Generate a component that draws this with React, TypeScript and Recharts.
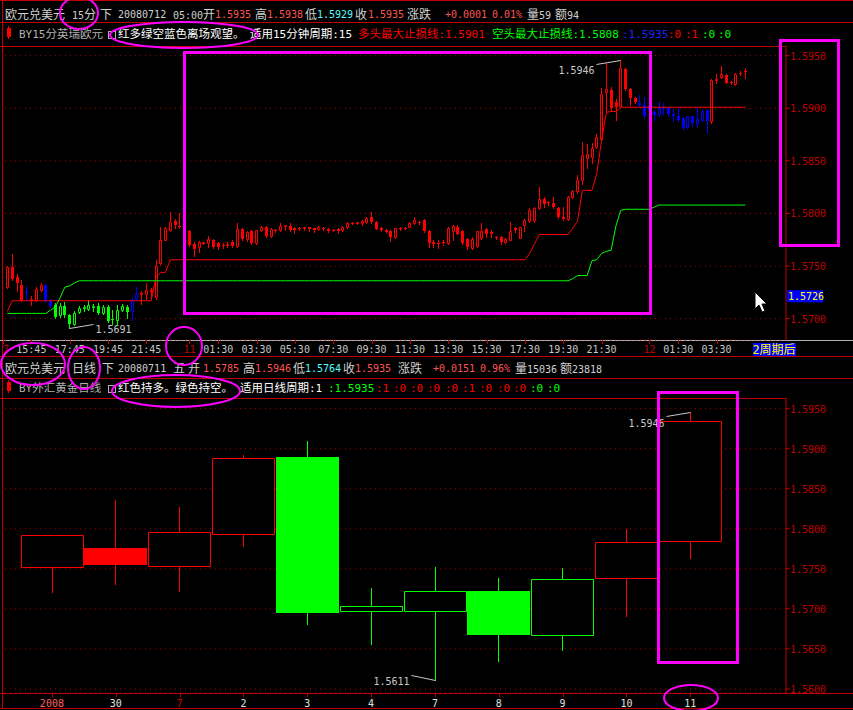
import React from "react"
import { Bar, CartesianGrid, ComposedChart, Line, ReferenceLine, XAxis, YAxis } from "recharts"

// ---- 15 minute bars, EUR/USD, 10 Jul 14:30 .. 12 Jul 05:00 ----
const TOP_OPEN = [
  1.5730, 1.5749, 1.5740, 1.5732, 1.5725, 1.5718, 1.5718, 1.5727, 1.5732, 1.5717,
  1.5713, 1.5703, 1.5712, 1.5703, 1.5695, 1.5706, 1.5710, 1.5709, 1.5711, 1.5712,
  1.5705, 1.5711, 1.5700, 1.5699, 1.5708, 1.5711, 1.5707, 1.5719, 1.5723, 1.5723,
  1.5727, 1.5721, 1.5753, 1.5775, 1.5784, 1.5793, 1.5788, 1.5786, 1.5783, 1.5771,
  1.5768, 1.5772, 1.5772, 1.5775, 1.5772, 1.5770, 1.5770, 1.5773, 1.5769, 1.5785,
  1.5776, 1.5783, 1.5772, 1.5784, 1.5787, 1.5779, 1.5784, 1.5784, 1.5788, 1.5788,
  1.5786, 1.5786, 1.5786, 1.5787, 1.5786, 1.5785, 1.5786, 1.5785, 1.5784, 1.5785,
  1.5784, 1.5787, 1.5791, 1.5791, 1.5791, 1.5792, 1.5797, 1.5792, 1.5786, 1.5784,
  1.5783, 1.5778, 1.5786, 1.5786, 1.5787, 1.5791, 1.5792, 1.5794, 1.5783, 1.5773,
  1.5772, 1.5773, 1.5772, 1.5783, 1.5787, 1.5783, 1.5776, 1.5767, 1.5769, 1.5777,
  1.5785, 1.5782, 1.5778, 1.5778, 1.5773, 1.5775, 1.5786, 1.5777, 1.5789, 1.5793,
  1.5794, 1.5805, 1.5814, 1.5811, 1.5810, 1.5805, 1.5797, 1.5795, 1.5816, 1.5821,
  1.5832, 1.5853, 1.5854, 1.5863, 1.5871, 1.5915, 1.5917, 1.5906, 1.5902, 1.5937,
  1.5918, 1.5910, 1.5905, 1.5903, 1.5902, 1.5896, 1.5895, 1.5900, 1.5900, 1.5895,
  1.5893, 1.5891, 1.5882, 1.5893, 1.5886, 1.5889, 1.5898, 1.5888, 1.5927, 1.5930,
  1.5932, 1.5925, 1.5923, 1.5934, 1.5935,
]
const TOP_HIGH = [
  1.5750, 1.5761, 1.5742, 1.5737, 1.5731, 1.5722, 1.5730, 1.5734, 1.5733, 1.5719,
  1.5715, 1.5715, 1.5716, 1.5704, 1.5707, 1.5712, 1.5713, 1.5718, 1.5714, 1.5715,
  1.5713, 1.5713, 1.5708, 1.5713, 1.5714, 1.5713, 1.5720, 1.5730, 1.5726, 1.5734,
  1.5729, 1.5756, 1.5787, 1.5787, 1.5801, 1.5795, 1.5800, 1.5787, 1.5784, 1.5773,
  1.5774, 1.5773, 1.5779, 1.5776, 1.5773, 1.5772, 1.5773, 1.5775, 1.5791, 1.5786,
  1.5783, 1.5784, 1.5784, 1.5788, 1.5788, 1.5786, 1.5785, 1.5791, 1.5789, 1.5791,
  1.5787, 1.5787, 1.5787, 1.5787, 1.5786, 1.5788, 1.5787, 1.5786, 1.5785, 1.5786,
  1.5788, 1.5792, 1.5792, 1.5792, 1.5794, 1.5797, 1.5801, 1.5793, 1.5787, 1.5785,
  1.5784, 1.5786, 1.5787, 1.5787, 1.5792, 1.5797, 1.5793, 1.5795, 1.5784, 1.5775,
  1.5775, 1.5775, 1.5787, 1.5789, 1.5789, 1.5784, 1.5777, 1.5778, 1.5783, 1.5791,
  1.5786, 1.5784, 1.5779, 1.5779, 1.5777, 1.5792, 1.5787, 1.5787, 1.5795, 1.5805,
  1.5806, 1.5825, 1.5816, 1.5812, 1.5816, 1.5806, 1.5806, 1.5817, 1.5822, 1.5837,
  1.5868, 1.5866, 1.5867, 1.5876, 1.5919, 1.5943, 1.5920, 1.5909, 1.5946, 1.5938,
  1.5919, 1.5911, 1.5913, 1.5911, 1.5903, 1.5898, 1.5906, 1.5905, 1.5901, 1.5899,
  1.5900, 1.5892, 1.5893, 1.5893, 1.5900, 1.5898, 1.5898, 1.5928, 1.5933, 1.5940,
  1.5933, 1.5926, 1.5934, 1.5935, 1.5938,
]
const TOP_LOW = [
  1.5729, 1.5737, 1.5726, 1.5717, 1.5718, 1.5713, 1.5717, 1.5726, 1.5716, 1.5711,
  1.5701, 1.5702, 1.5702, 1.5691, 1.5694, 1.5705, 1.5707, 1.5708, 1.5707, 1.5704,
  1.5704, 1.5697, 1.5695, 1.5694, 1.5707, 1.5701, 1.5699, 1.5718, 1.5714, 1.5719,
  1.5719, 1.5719, 1.5752, 1.5775, 1.5783, 1.5786, 1.5786, 1.5781, 1.5769, 1.5760,
  1.5763, 1.5771, 1.5768, 1.5767, 1.5766, 1.5767, 1.5768, 1.5768, 1.5768, 1.5775,
  1.5774, 1.5771, 1.5771, 1.5783, 1.5778, 1.5778, 1.5782, 1.5783, 1.5784, 1.5783,
  1.5781, 1.5784, 1.5784, 1.5783, 1.5782, 1.5784, 1.5784, 1.5782, 1.5783, 1.5781,
  1.5783, 1.5786, 1.5790, 1.5790, 1.5789, 1.5791, 1.5791, 1.5785, 1.5783, 1.5782,
  1.5774, 1.5777, 1.5784, 1.5785, 1.5787, 1.5790, 1.5790, 1.5782, 1.5768, 1.5768,
  1.5767, 1.5770, 1.5771, 1.5775, 1.5780, 1.5771, 1.5766, 1.5766, 1.5768, 1.5776,
  1.5778, 1.5778, 1.5776, 1.5771, 1.5772, 1.5775, 1.5782, 1.5777, 1.5783, 1.5792,
  1.5792, 1.5804, 1.5806, 1.5808, 1.5805, 1.5796, 1.5794, 1.5794, 1.5815, 1.5819,
  1.5828, 1.5843, 1.5848, 1.5862, 1.5870, 1.5897, 1.5897, 1.5889, 1.5902, 1.5917,
  1.5903, 1.5905, 1.5902, 1.5891, 1.5892, 1.5889, 1.5893, 1.5895, 1.5893, 1.5888,
  1.5888, 1.5880, 1.5881, 1.5883, 1.5883, 1.5888, 1.5877, 1.5886, 1.5924, 1.5929,
  1.5924, 1.5923, 1.5922, 1.5932, 1.5929,
]
const TOP_CLOSE = [
  1.5749, 1.5738, 1.5734, 1.5718, 1.5724, 1.5719, 1.5728, 1.5732, 1.5717, 1.5712,
  1.5702, 1.5712, 1.5703, 1.5695, 1.5705, 1.5710, 1.5711, 1.5713, 1.5712, 1.5705,
  1.5711, 1.5698, 1.5699, 1.5708, 1.5712, 1.5706, 1.5718, 1.5723, 1.5724, 1.5727,
  1.5725, 1.5750, 1.5775, 1.5786, 1.5792, 1.5789, 1.5787, 1.5783, 1.5770, 1.5766,
  1.5773, 1.5773, 1.5776, 1.5768, 1.5768, 1.5769, 1.5771, 1.5769, 1.5785, 1.5776,
  1.5782, 1.5772, 1.5784, 1.5787, 1.5779, 1.5785, 1.5783, 1.5788, 1.5789, 1.5784,
  1.5784, 1.5785, 1.5787, 1.5785, 1.5784, 1.5787, 1.5785, 1.5783, 1.5784, 1.5783,
  1.5787, 1.5791, 1.5791, 1.5792, 1.5793, 1.5796, 1.5792, 1.5785, 1.5784, 1.5782,
  1.5778, 1.5786, 1.5785, 1.5786, 1.5791, 1.5794, 1.5792, 1.5783, 1.5772, 1.5771,
  1.5771, 1.5772, 1.5786, 1.5788, 1.5780, 1.5772, 1.5768, 1.5776, 1.5783, 1.5783,
  1.5780, 1.5780, 1.5777, 1.5773, 1.5776, 1.5783, 1.5784, 1.5787, 1.5794, 1.5803,
  1.5805, 1.5814, 1.5809, 1.5810, 1.5806, 1.5797, 1.5795, 1.5816, 1.5821, 1.5832,
  1.5856, 1.5857, 1.5862, 1.5873, 1.5914, 1.5918, 1.5900, 1.5901, 1.5938, 1.5918,
  1.5910, 1.5906, 1.5903, 1.5893, 1.5898, 1.5894, 1.5900, 1.5901, 1.5895, 1.5893,
  1.5889, 1.5881, 1.5893, 1.5886, 1.5890, 1.5897, 1.5888, 1.5927, 1.5928, 1.5933,
  1.5924, 1.5924, 1.5933, 1.5933, 1.5935,
]
// r = long (red), g = short (green), b = stand aside (blue); [signal, bar count]
const TOP_SIGNAL_RUNS: [string, number][] = [
  ["r", 4], ["b", 1], ["r", 3], ["b", 2], ["g", 16], ["b", 2], ["r", 104], ["b", 15], ["r", 8],
]
// stop lines as [value, bar count]
const LONG_STOP_RUNS: [number, number][] = [
  [1.5707, 1], [1.5717, 30], [1.5739, 1], [1.5744, 2], [1.5756, 75], [1.5762, 1], [1.5771, 1],
  [1.5780, 7], [1.5786, 1], [1.5793, 1], [1.5822, 3], [1.5838, 1], [1.5869, 1], [1.5896, 1],
  [1.5897, 2], [1.5901, 27],
]
const SHORT_STOP_RUNS: [number, number][] = [
  [1.5705, 9], [1.5708, 1], [1.5711, 1], [1.5720, 1], [1.5730, 1], [1.5731, 1], [1.5734, 1],
  [1.5736, 103], [1.5738, 1], [1.5741, 3], [1.5755, 1], [1.5756, 1], [1.5762, 1], [1.5764, 1],
  [1.5765, 1], [1.5788, 1], [1.5803, 1], [1.5804, 6], [1.5806, 1], [1.5808, 19],
]
const TOP_SLOTS = 163
const TOP_TICKS: [number, string, string][] = [
  [0, "7", "#c00000"], [5, "15:45", "#c8c8c8"], [13, "17:45", "#c8c8c8"], [21, "19:45", "#c8c8c8"],
  [29, "21:45", "#c8c8c8"], [38, "11", "#c00000"], [44, "01:30", "#c8c8c8"], [52, "03:30", "#c8c8c8"],
  [60, "05:30", "#c8c8c8"], [68, "07:30", "#c8c8c8"], [76, "09:30", "#c8c8c8"], [84, "11:30", "#c8c8c8"],
  [92, "13:30", "#c8c8c8"], [100, "15:30", "#c8c8c8"], [108, "17:30", "#c8c8c8"], [116, "19:30", "#c8c8c8"],
  [124, "21:30", "#c8c8c8"], [134, "12", "#c00000"], [140, "01:30", "#c8c8c8"], [148, "03:30", "#c8c8c8"],
  [160, "2周期后", "#ffff00"],
]
const TOP_PRICE_TICKS = [1.57, 1.575, 1.58, 1.585, 1.59, 1.595]
const CURSOR_PRICE = 1.5726

// ---- daily bars ----
const DAY_LABELS = ["2008", "30", "7", "2", "3", "4", "7", "8", "9", "10", "11"]
const DAY_LABEL_COLORS = ["#ff6060", "#e0e0e0", "#d00000", "#e0e0e0", "#e0e0e0", "#e0e0e0", "#e0e0e0", "#e0e0e0", "#e0e0e0", "#e0e0e0", "#e0e0e0"]
const DAY_OPEN = [1.5752, 1.5776, 1.5753, 1.5793, 1.5890, 1.5697, 1.5698, 1.5723, 1.5667, 1.5739, 1.5785]
const DAY_HIGH = [1.5792, 1.5836, 1.5827, 1.5892, 1.5910, 1.5726, 1.5752, 1.5738, 1.5751, 1.5800, 1.5946]
const DAY_LOW = [1.5721, 1.5731, 1.5722, 1.5779, 1.5681, 1.5656, 1.5611, 1.5635, 1.5649, 1.5691, 1.5764]
const DAY_CLOSE = [1.5792, 1.5755, 1.5796, 1.5889, 1.5695, 1.5704, 1.5723, 1.5668, 1.5737, 1.5784, 1.5935]
const DAY_SIGNAL = ["r", "r", "r", "r", "g", "g", "g", "g", "g", "r", "r"]
const DAY_SLOTS = 12
const DAY_PRICE_TICKS = [1.56, 1.565, 1.57, 1.575, 1.58, 1.585, 1.59, 1.595]

const SIGNAL_COLOR: Record<string, string> = { r: "#ff0000", g: "#00ff00", b: "#0000ff" }
const AXIS_RED = "#c00000"
const MONO = "DejaVu Sans Mono, Noto Sans CJK SC"

const expand = <T,>(runs: [T, number][]) => runs.flatMap(([v, n]) => Array(n).fill(v) as T[])
const topSignal = expand(TOP_SIGNAL_RUNS)
const longStop = expand(LONG_STOP_RUNS)
const shortStop = expand(SHORT_STOP_RUNS)

const topData = Array.from({ length: TOP_SLOTS }, (_, i) =>
  i < TOP_OPEN.length
    ? {
        idx: i,
        range: [TOP_LOW[i], TOP_HIGH[i]],
        open: TOP_OPEN[i],
        high: TOP_HIGH[i],
        low: TOP_LOW[i],
        close: TOP_CLOSE[i],
        signal: topSignal[i],
        longStop: longStop[i],
        shortStop: shortStop[i],
      }
    : { idx: i }
)
const dayData = Array.from({ length: DAY_SLOTS }, (_, i) =>
  i < DAY_OPEN.length
    ? {
        idx: i,
        range: [DAY_LOW[i], DAY_HIGH[i]],
        open: DAY_OPEN[i],
        high: DAY_HIGH[i],
        low: DAY_LOW[i],
        close: DAY_CLOSE[i],
        signal: DAY_SIGNAL[i],
      }
    : { idx: i }
)

const argMax = (a: number[]) => a.indexOf(Math.max(...a))
const argMin = (a: number[]) => a.indexOf(Math.min(...a))

type CandleOpts = { half: number; maxIdx: number; minIdx: number; minSide: "left" | "right"; maxDy: number }

const makeCandle = (o: CandleOpts) => (props: any) => {
  const { x, y, width, height, payload } = props
  if (!payload || payload.high == null || !(height > 0)) return <g />
  const { open, high, low, close, signal, idx } = payload
  const k = height / (high - low)
  const py = (v: number) => y + (high - v) * k
  const c = Math.round(x + width / 2 - 0.5)
  const lx = c + 0.5
  const color = SIGNAL_COLOR[signal]
  const up = close >= open
  const top = Math.round(py(Math.max(open, close)))
  const bot = Math.round(py(Math.min(open, close)))
  const yH = Math.round(py(high))
  const yL = Math.round(py(low))
  const l = c - o.half + 0.5
  const r = c + o.half + 0.5
  let body
  if (up) {
    body =
      bot - top < 1 ? (
        <line x1={c - o.half} x2={c + o.half + 1} y1={top + 0.5} y2={top + 0.5} stroke={color} />
      ) : (
        <g>
          <rect x={l} y={top + 0.5} width={o.half * 2} height={bot - top} fill="#000" />
          <path d={`M${l} ${top + 0.5}H${r}V${bot + 0.5}H${l}Z`} fill="none" stroke={color} />
        </g>
      )
  } else {
    body = <rect x={c - o.half} y={top} width={o.half * 2 + 1} height={Math.max(bot - top, 1)} fill={color} />
  }
  const textStyle = { fill: "#c8c8c8", fontSize: 10, fontFamily: MONO }
  return (
    <g>
      <line x1={lx} x2={lx} y1={yH} y2={yL + 1} stroke={color} />
      {body}
      {idx === o.maxIdx && (
        <g>
          <line x1={lx} y1={yH + 0.5} x2={lx - 24} y2={yH + 4.5} stroke="#c8c8c8" />
          <text x={lx - 26} y={yH + o.maxDy} textAnchor="end" {...textStyle}>
            {high.toFixed(4)}
          </text>
        </g>
      )}
      {idx === o.minIdx &&
        (o.minSide === "right" ? (
          <g>
            <line x1={lx} y1={yL + 0.5} x2={lx + 24} y2={yL - 3.5} stroke="#c8c8c8" />
            <text x={lx + 26} y={yL + 5} {...textStyle}>
              {low.toFixed(4)}
            </text>
          </g>
        ) : (
          <g>
            <line x1={lx} y1={yL + 0.5} x2={lx - 24} y2={yL - 4.5} stroke="#c8c8c8" />
            <text x={lx - 26} y={yL + 5} textAnchor="end" {...textStyle}>
              {low.toFixed(4)}
            </text>
          </g>
        ))}
    </g>
  )
}

const TopCandle = makeCandle({ half: 1, maxIdx: argMax(TOP_HIGH), minIdx: argMin(TOP_LOW), minSide: "right", maxDy: 14 })
const DayCandle = makeCandle({ half: 31, maxIdx: argMax(DAY_HIGH), minIdx: argMin(DAY_LOW), minSide: "left", maxDy: 15 })

const PriceTick = (props: any) => (
  <text x={props.x} y={props.y + 4} fill={AXIS_RED} fontSize={10} fontFamily={MONO}>
    {Number(props.payload.value).toFixed(4)}
  </text>
)

const TopTimeTick = (props: any) => {
  const { x, y, payload } = props
  const t = TOP_TICKS.find((d) => d[0] === payload.value)
  if (!t) return <g />
  const [i, label, color] = t
  if (label === "2周期后") {
    return (
      <g>
        <rect x={x - 21} y={y + 3} width={43} height={14} fill="#0000ff" />
        <text x={x} y={y + 14} textAnchor="middle" fill={color} fontSize={12} fontFamily={MONO}>
          {label}
        </text>
      </g>
    )
  }
  const px = Math.round(x) + 0.5
  // the first label sits against the left frame
  const first = i === 0
  return (
    <g>
      <line x1={first ? 3.5 : px} x2={first ? 3.5 : px} y1={y} y2={y + 4} stroke={AXIS_RED} />
      <text x={first ? 3 : x} y={y + 13} textAnchor={first ? "start" : "middle"} fill={color} fontSize={10} fontFamily={MONO}>
        {label}
      </text>
    </g>
  )
}

const DayTick = (props: any) => {
  const { x, y, payload } = props
  const i = payload.value as number
  if (i >= DAY_LABELS.length) return <g />
  const px = Math.round(x) + 0.5
  return (
    <g>
      <line x1={px} x2={px} y1={y} y2={y + 4} stroke={AXIS_RED} />
      <text x={x} y={y + 14} textAnchor="middle" fill={DAY_LABEL_COLORS[i]} fontSize={10} fontFamily={MONO}>
        {DAY_LABELS[i]}
      </text>
    </g>
  )
}

const CursorPriceLabel = (props: any) => {
  const vb = props.viewBox
  if (!vb) return null
  const x = vb.x + vb.width + 1
  return (
    <g>
      <rect x={x} y={vb.y - 1} width={36} height={12} fill="#0000ff" />
      <text x={x + 1} y={vb.y + 9} fill="#ffff00" fontSize={10} fontFamily={MONO}>
        {CURSOR_PRICE.toFixed(4)}
      </text>
    </g>
  )
}

// ---- header text: [text, colour, left x] ----
type Tok = [string, string, number]
const W = "#d0d0d0"
const SALMON = "#ff5454"
const CYAN = "#54ffff"
const TOP_TITLE: Tok[] = [
  ["欧元兑美元", W, 5], ["15分", W, 72], ["下", W, 100], ["20080712", W, 118], ["05:00开", W, 173],
  ["1.5935", SALMON, 215], ["高", W, 255], ["1.5938", SALMON, 267], ["低", W, 305], ["1.5929", CYAN, 317],
  ["收", W, 355], ["1.5935", SALMON, 368], ["涨跌", W, 407], ["+0.0001", SALMON, 445], ["0.01%", SALMON, 492],
  ["量59", W, 527], ["额94", W, 555],
]
const TOP_LEGEND: Tok[] = [
  ["BY15分英瑞欧元", "#b0b0b0", 19], ["红多绿空蓝色离场观望。", "#ffffff", 118], ["适用15分钟周期:15", "#ffffff", 250],
  ["多头最大止损线:1.5901", "#ff0000", 358], ["空头最大止损线:1.5808", "#00ff00", 492], [":1.5935", "#2020ff", 622],
  [":0", "#ff0000", 668], [":1", "#ff0000", 685], [":0", "#00ff00", 702], [":0", "#00ff00", 718],
]
const DAY_TITLE: Tok[] = [
  ["欧元兑美元", W, 5], ["日线", W, 72], ["下", W, 102], ["20080711", W, 118], ["五", W, 173], ["开", W, 188],
  ["1.5785", SALMON, 203], ["高", W, 243], ["1.5946", SALMON, 255], ["低", W, 293], ["1.5764", CYAN, 305],
  ["收", W, 343], ["1.5935", SALMON, 355], ["涨跌", W, 398], ["+0.0151", SALMON, 433], ["0.96%", SALMON, 480],
  ["量15036", W, 515], ["额23818", W, 560],
]
const DAY_LEGEND: Tok[] = [
  ["BY外汇黄金日线", "#b0b0b0", 19], ["红色持多。绿色持空。", "#ffffff", 118], ["适用日线周期:1", "#ffffff", 240],
  [":1.5935", "#00ff00", 328], [":1", "#ff0000", 376], [":0", "#ff0000", 393], [":0", "#ff0000", 410],
  [":0", "#ff0000", 427], [":0", "#ff0000", 445], [":1", "#ff0000", 462], [":0", "#ff0000", 479],
  [":0", "#ff0000", 497], [":0", "#ff0000", 513], [":0", "#00ff00", 530], [":0", "#00ff00", 547],
]

// ascii in a mono face, CJK in Noto, like the bitmap font of the terminal
const Mixed = ({ text, color, ascii, cjk }: { text: string; color: string; ascii: number; cjk: number }) => (
  <>
    {text
      .split(/([\x20-\x7e]+)/)
      .filter(Boolean)
      .map((s, k) =>
        /^[\x20-\x7e]+$/.test(s) ? (
          <span key={k} style={{ color, font: `${ascii}px "DejaVu Sans Mono"` }}>{s}</span>
        ) : (
          <span key={k} style={{ color, font: `${cjk}px "Noto Sans CJK SC"` }}>{s}</span>
        )
      )}
  </>
)

const TextLine = ({ top, toks, ascii, cjk }: { top: number; toks: Tok[]; ascii: number; cjk: number }) => (
  <>
    {toks.map(([t, c, x], k) => (
      <div key={k} style={{ position: "absolute", left: x, top, whiteSpace: "pre", lineHeight: "16px", height: 16 }}>
        <Mixed text={t} color={c} ascii={ascii} cjk={cjk} />
      </div>
    ))}
  </>
)

const LegendIcons = ({ top }: { top: number }) => (
  <>
    <div style={{ position: "absolute", left: 7, top: top + 3, width: 4, height: 9, background: "#ff0000" }} />
    <div style={{ position: "absolute", left: 8, top: top + 1, width: 1, height: 13, background: "#ff0000" }} />
    <div style={{ position: "absolute", left: 108, top: top + 6, width: 6, height: 6, border: "1px solid #b0b0b0" }} />
  </>
)

const Frame = () => (
  <svg width={853} height={710} style={{ position: "absolute", left: 0, top: 0 }}>
    <g stroke={AXIS_RED} shapeRendering="crispEdges">
      <line x1={0} x2={853} y1={0.5} y2={0.5} />
      <line x1={0} x2={853} y1={22.5} y2={22.5} />
      <line x1={0} x2={786} y1={46.5} y2={46.5} />
      <line x1={0} x2={853} y1={356.5} y2={356.5} />
      <line x1={0} x2={853} y1={378.5} y2={378.5} />
      <line x1={0} x2={786} y1={398.5} y2={398.5} />
      <line x1={0} x2={853} y1={693.5} y2={693.5} />
      <line x1={0} x2={853} y1={708.5} y2={708.5} />
      <line x1={2.5} x2={2.5} y1={0} y2={709} />
    </g>
    <line x1={0} x2={853} y1={340.5} y2={340.5} stroke="#b0b0b0" />
  </svg>
)

// hand-drawn highlight marks and the mouse pointer on the screenshot
const Annotations = () => (
  <svg width={853} height={710} style={{ position: "absolute", left: 0, top: 0, pointerEvents: "none" }}>
    <g fill="none" stroke="#ff00ff" strokeWidth={2}>
      <ellipse cx={79} cy={13} rx={19} ry={16} />
      <ellipse cx={184} cy={35} rx={74} ry={13} />
      <rect x={184.5} y={52.5} width={466} height={261} strokeWidth={3} />
      <rect x={780.5} y={40.5} width={58} height={205} strokeWidth={3} />
      <ellipse cx={184} cy={346} rx={18} ry={19} />
      <ellipse cx={33} cy={364} rx={32} ry={21} />
      <ellipse cx={84} cy={368} rx={16} ry={21} />
      <ellipse cx={176} cy={391} rx={64} ry={16} />
      <rect x={658.5} y={392.5} width={79} height={270} strokeWidth={3} />
      <ellipse cx={691} cy={698} rx={27} ry={13} />
    </g>
    <path d="M755 292 L755 309 L759 305 L762 312 L765 311 L762 304 L767 304 Z" fill="#fff" stroke="#000" />
  </svg>
)

export default function App() {
  return (
    <div style={{ position: "absolute", left: 0, top: 0, width: 853, height: 710, background: "#000", overflow: "hidden" }}>
      <Frame />
      <TextLine top={5} toks={TOP_TITLE} ascii={10} cjk={12} />
      <LegendIcons top={25} />
      <TextLine top={25} toks={TOP_LEGEND} ascii={11} cjk={11.5} />

      <div style={{ position: "absolute", left: 0, top: 46 }}>
        <ComposedChart width={853} height={310} data={topData} margin={{ top: 0, right: 0, bottom: 0, left: 5 }} barCategoryGap={0} barGap={0}>
          <CartesianGrid vertical={false} stroke="#b00000" strokeDasharray="1 4" />
          <XAxis dataKey="idx" type="category" interval={0} height={16} tick={<TopTimeTick />} tickLine={false} axisLine={false} tickSize={0} tickMargin={0} />
          <YAxis
            orientation="right"
            width={67}
            type="number"
            domain={[1.56797, 1.59592]}
            allowDataOverflow
            ticks={TOP_PRICE_TICKS}
            tick={<PriceTick />}
            tickSize={4}
            tickMargin={0}
            axisLine={{ stroke: AXIS_RED }}
            tickLine={{ stroke: AXIS_RED }}
          />
          <Bar dataKey="range" shape={TopCandle} isAnimationActive={false} />
          <Line dataKey="longStop" type="linear" stroke="#ff0000" strokeWidth={1} dot={false} activeDot={false} isAnimationActive={false} />
          <Line dataKey="shortStop" type="linear" stroke="#00ff00" strokeWidth={1} dot={false} activeDot={false} isAnimationActive={false} />
          <ReferenceLine y={CURSOR_PRICE} stroke="none" label={<CursorPriceLabel />} />
        </ComposedChart>
      </div>

      <TextLine top={359} toks={DAY_TITLE} ascii={10} cjk={12} />
      <LegendIcons top={379} />
      <TextLine top={379} toks={DAY_LEGEND} ascii={11} cjk={11.5} />

      <div style={{ position: "absolute", left: 0, top: 398 }}>
        <ComposedChart width={853} height={311} data={dayData} margin={{ top: 0, right: 0, bottom: 0, left: 5 }} barCategoryGap={0} barGap={0}>
          <CartesianGrid vertical={false} stroke="#b00000" strokeDasharray="1 4" />
          <XAxis dataKey="idx" type="category" interval={0} height={16} padding={{ left: 15, right: 0 }} tick={<DayTick />} tickLine={false} axisLine={false} tickSize={0} tickMargin={0} />
          <YAxis
            orientation="right"
            width={67}
            type="number"
            domain={[1.5595, 1.59634]}
            allowDataOverflow
            ticks={DAY_PRICE_TICKS}
            tick={<PriceTick />}
            tickSize={4}
            tickMargin={0}
            axisLine={{ stroke: AXIS_RED }}
            tickLine={{ stroke: AXIS_RED }}
          />
          <Bar dataKey="range" shape={DayCandle} isAnimationActive={false} />
        </ComposedChart>
      </div>

      <Annotations />
    </div>
  )
}
